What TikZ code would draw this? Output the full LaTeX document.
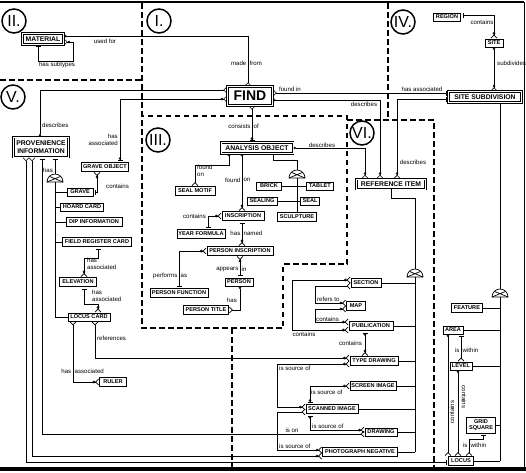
\documentclass[tikz,border=0pt]{standalone}
\usepackage{fontspec}
\setmainfont{Liberation Sans}
\usetikzlibrary{arrows.meta}
\tikzset{
  ent/.style={draw, line width=1pt, fill=white, font=\fontsize{5.6}{6}\selectfont\bfseries, inner xsep=1pt, inner ysep=0pt, align=center},
  ment/.style={ent, double, double distance=0.6pt, line width=0.8pt, font=\fontsize{6.8}{7.4}\selectfont\bfseries},
  lbl/.style={font=\fontsize{6.1}{6.6}\selectfont, inner sep=0pt, align=left},
  conn/.style={line width=0.65pt},
  zone/.style={line width=1.6pt, dash pattern=on 5.5pt off 3.5pt},
  roman/.style={circle, draw, line width=1.5pt, minimum size=24pt, inner sep=0pt, font=\fontsize{16}{16}\selectfont},
  Crow/.tip={Straight Barb[reversed,length=3pt,width=6pt]},
  OCrow/.tip={Circle[open,length=2.6pt,width=2.6pt] Straight Barb[reversed,length=3pt,width=6pt]},
  One/.tip={Bar[width=5pt,sep=1.5pt]},
  OOne/.tip={Circle[open,length=2.6pt,width=2.6pt] Bar[width=5pt,sep=1.5pt]},
  Ring/.tip={Circle[open,length=2.6pt,width=2.6pt]},
  xarc/.pic={
    \coordinate (-top) at (0,-8);
    \coordinate (-base) at (0,0);
    \draw[line width=0.7pt, fill=white] (-8,0) arc[start angle=180, end angle=360, radius=8] -- cycle;
    \draw[line width=0.7pt] (-8,0) -- (5.66,-5.66) (8,0) -- (-5.66,-5.66);
  }
}
\begin{document}
\begin{tikzpicture}[x=1pt,y=-1pt]
\useasboundingbox (0,0) rectangle (526,472);
% frame
\draw[line width=1.5pt] (0,2) -- (524,2);
\draw[line width=1pt] (524,2) -- (524,468);
\draw[line width=4pt] (0,468.5) -- (526,468.5);
% zones
\draw[zone] (0,80) -- (142,80);
\draw[zone] (142,3) -- (142,328) -- (283,328) -- (283,264) -- (347,264) -- (347,116) -- (142,116);
\draw[zone] (347,120) -- (434,120) -- (434,468);
\draw[zone] (388,3) -- (388,120);
\draw[zone] (232,328) -- (232,468);
% roman numerals
\node[roman] (rII) at (14,21) {II.};
\node[roman] (rI) at (159,21) {I.};
\node[roman] (rIV) at (403,22) {IV.};
\node[roman] (rV) at (13,97) {V.};
\node[roman] (rIII) at (158,140) {III.};
\node[roman] (rVI) at (362,133) {VI.};
% entities
\node[ment, minimum width=41pt, minimum height=11pt] (mat) at (43,39) {MATERIAL};
\node[ment, minimum width=45pt, minimum height=19pt, font=\fontsize{14}{14}\selectfont\bfseries] (find) at (250,96) {FIND};
\node[ent, minimum width=27pt, minimum height=8pt] (region) at (447,17) {REGION};
\node[ent, minimum width=18pt, minimum height=8pt] (site) at (494,43) {SITE};
\node[ment, minimum width=73pt, minimum height=11pt] (ss) at (485,97) {SITE SUBDIVISION};
\node[ment, minimum width=55pt, minimum height=20pt] (prov) at (41,147) {PROVENIENCE\\INFORMATION};
\node[ent, minimum width=47pt, minimum height=9pt] (gobj) at (105,167) {GRAVE OBJECT};
\node[ent, minimum width=26pt, minimum height=8pt] (grave) at (80,192) {GRAVE};
\node[ent, minimum width=43pt, minimum height=8pt] (hoard) at (82,207) {HOARD CARD};
\node[ent, minimum width=56pt, minimum height=9pt] (dip) at (94,222) {DIP INFORMATION};
\node[ent, minimum width=69pt, minimum height=9pt] (frc) at (97,242) {FIELD REGISTER CARD};
\node[ent, minimum width=37pt, minimum height=9pt] (elev) at (78,282) {ELEVATION};
\node[ent, minimum width=42pt, minimum height=8pt] (lcard) at (89,317) {LOCUS CARD};
\node[ent, minimum width=27pt, minimum height=9pt] (ruler) at (113,382) {RULER};
\node[ment, minimum width=72pt, minimum height=11pt] (ao) at (257,148) {ANALYSIS OBJECT};
\node[ent, minimum width=40pt, minimum height=9pt] (smotif) at (195,191) {SEAL MOTIF};
\node[ent, minimum width=25pt, minimum height=8pt] (brick) at (269,186) {BRICK};
\node[ent, minimum width=27pt, minimum height=8pt] (tablet) at (320,186) {TABLET};
\node[ent, minimum width=30pt, minimum height=8pt] (sealing) at (262,201) {SEALING};
\node[ent, minimum width=19pt, minimum height=8pt] (seal) at (310,201) {SEAL};
\node[ent, minimum width=39pt, minimum height=9pt] (sculp) at (297,217) {SCULPTURE};
\node[ent, minimum width=42pt, minimum height=9pt] (insc) at (243,216) {INSCRIPTION};
\node[ent, minimum width=48pt, minimum height=9pt] (yf) at (201,234) {YEAR FORMULA};
\node[ent, minimum width=66pt, minimum height=9pt] (pinsc) at (240,251) {PERSON INSCRIPTION};
\node[ent, minimum width=28pt, minimum height=8pt] (person) at (239,282) {PERSON};
\node[ent, minimum width=58pt, minimum height=9pt] (pfunc) at (179,293) {PERSON FUNCTION};
\node[ent, minimum width=45pt, minimum height=9pt] (ptitle) at (206,310) {PERSON TITLE};
\node[ment, minimum width=69pt, minimum height=10pt] (ref) at (391,184) {REFERENCE ITEM};
\node[ent, minimum width=30pt, minimum height=9pt] (section) at (366,283) {SECTION};
\node[ent, minimum width=19pt, minimum height=9pt] (map) at (356,306) {MAP};
\node[ent, minimum width=44pt, minimum height=9pt] (pub) at (371,326) {PUBLICATION};
\node[ent, minimum width=48pt, minimum height=9pt] (td) at (374,361) {TYPE DRAWING};
\node[ent, minimum width=46pt, minimum height=9pt] (screen) at (373,386) {SCREEN IMAGE};
\node[ent, minimum width=52pt, minimum height=9pt] (scan) at (332,409) {SCANNED IMAGE};
\node[ent, minimum width=32pt, minimum height=8pt] (drawing) at (381,432) {DRAWING};
\node[ent, minimum width=75pt, minimum height=9pt] (pn) at (360,452) {PHOTOGRAPH NEGATIVE};
\node[ent, minimum width=31pt, minimum height=9pt] (feature) at (467,308) {FEATURE};
\node[ent, minimum width=20pt, minimum height=8pt] (area) at (453,330) {AREA};
\node[ent, minimum width=22pt, minimum height=8pt] (level) at (461,366) {LEVEL};
\node[ent, minimum width=29pt, minimum height=16pt] (grid) at (481,425) {GRID\\SQUARE};
\node[ent, minimum width=25pt, minimum height=9pt] (locus) at (461,461) {LOCUS};
% subtype arcs
\pic (arcA) at (297,178) {xarc};
\pic (arcB) at (415,277) {xarc};
\pic (arcC) at (55,182) {xarc};
\pic (arcD) at (500,297) {xarc};
% region II / I
\draw[conn, {Ring}-{Crow}] (mat.east |- 0,36) -| (248,0 |- find.north);
\node[lbl] (l1) at (105,41) {used for};
\node[lbl, anchor=east] (l2a) at (246.5,63) {made};
\node[lbl, anchor=west] (l2b) at (249.5,63) {from};
\draw[conn, {OCrow}-{One}] (mat.east |- 0,42) -- (73,42) -- (73,61) -- (38,61) -- (38,0 |- mat.south);
\node[lbl] (l3) at (57,65) {has subtypes};
\draw[conn, {Crow}-{Ring}] (find.west |- 0,90) -| (40,0 |- prov.north);
\node[lbl, anchor=west] (l4) at (42,125) {describes};
\draw[conn, {OCrow}-{OOne}] (find.west |- 0,99) -| (120,0 |- gobj.north);
\node[lbl, anchor=east, align=right] (l5) at (118,140) {has\\associated};
\draw[conn, {Crow}-{One}] (find.east |- 0,93) -- (ss.west |- 0,93);
\node[lbl] (l6) at (290,89) {found in};
\node[lbl] (l7) at (422,89) {has associated};
\draw[conn, {Ring}-{OCrow}] (find.east |- 0,100) -| (380,0 |- ref.north);
\node[lbl] (l8) at (364,104) {describes};
\draw[conn, {One}-{OCrow}] (ss.west |- 0,99) -| (397,0 |- ref.north);
\node[lbl] (l9) at (413,162) {describes};
\draw[conn, {Ring}-{OCrow}] (ao.east |- 0,148) -| (365,0 |- ref.north);
\node[lbl] (l10) at (322,145) {describes};
\draw[conn, {Crow}-{OOne}] (252,0 |- find.south) -- (252,0 |- ao.north);
\node[lbl, anchor=east] (l11a) at (250.5,126) {consists};
\node[lbl, anchor=west] (l11b) at (253.5,126) {of};
% region III
\draw[conn, {Ring}-{Crow}] (229,0 |- ao.south) |- (195,165) -- (195,0 |- smotif.north);
\node[lbl, anchor=west] (l12) at (197,171) {found\\on};
\draw[conn, {Ring}-{OCrow}] (242,0 |- ao.south) -- (242,0 |- insc.north);
\node[lbl, anchor=east] (l13a) at (240.5,180) {found};
\node[lbl, anchor=west] (l13b) at (243.5,180) {on};
\draw[conn] (273,0 |- ao.south) |- (297,160) -- (arcA-top);
\draw[conn] (arcA-base) -- (sculp.north);
\draw[conn] (brick.east) -- (tablet.west);
\draw[conn] (sealing.east) -- (seal.west);
\draw[conn, {OCrow}-{One}] (insc.west) -| (208,0 |- yf.north);
\node[lbl, anchor=east] (l14) at (206,216) {contains};
\draw[conn, {One}-{OCrow}] (242,0 |- insc.south) -- (242,0 |- pinsc.north);
\node[lbl, anchor=east] (l15a) at (240.5,233) {has};
\node[lbl, anchor=west] (l15b) at (243.5,233) {named};
\draw[conn, {OCrow}-{One}] (240,0 |- pinsc.south) -- (240,0 |- person.north);
\node[lbl, anchor=east] (l16a) at (238.5,269) {appears};
\node[lbl, anchor=west] (l16b) at (241.5,269) {in};
\draw[conn, {OCrow}-{One}] (pinsc.west) -| (179,0 |- pfunc.north);
\node[lbl, anchor=east] (l17a) at (177.5,276) {performs};
\node[lbl, anchor=west] (l17b) at (180.5,276) {as};
\draw[conn, {Ring}-{Crow}] (240,0 |- person.south) |- (ptitle.east);
\node[lbl, anchor=east] (l18) at (237,300) {has};
% region V
\draw[conn, {One}-] (55,0 |- prov.south) -- (arcC-top);
\node[lbl] (l19) at (48,170) {has};
\draw[conn] (arcC-base) -- (arcC-base |- lcard.west) -- (lcard.west);
\draw[conn] (arcC-base |- grave.west) -- (grave.west);
\draw[conn] (arcC-base |- hoard.west) -- (hoard.west);
\draw[conn] (arcC-base |- dip.west) -- (dip.west);
\draw[conn] (arcC-base |- frc.west) -- (frc.west);
\draw[conn, {OCrow}-{One}] (97,0 |- gobj.south) |- (grave.east);
\node[lbl, anchor=west] (l20) at (106,186) {contains};
\draw[conn, {One}-{OCrow}] (98,0 |- frc.south) |- (84,258) -- (84,0 |- elev.north);
\node[lbl, anchor=west] (l21) at (87,264) {has\\associated};
\draw[conn, {One}-{OCrow}] (84,0 |- elev.south) |- (98,304) -- (98,0 |- lcard.north);
\node[lbl, anchor=west] (l22) at (92,296) {has\\associated};
\draw[conn, {Crow}-{OCrow}] (95,0 |- lcard.south) |- (td.west |- 0,358);
\node[lbl, anchor=west] (l23) at (97,338) {references};
\draw[conn, {Crow}-{OCrow}] (73,0 |- lcard.south) |- (ruler.west);
\node[lbl, anchor=east] (l24a) at (71.5,371) {has};
\node[lbl, anchor=west] (l24b) at (74.5,371) {associated};
\draw[conn, {One}-{Crow}] (42,0 |- prov.south) |- (drawing.west |- 0,434);
\node[lbl] (l25) at (292,430) {is on};
\draw[conn, {Crow}-{OCrow}] (32,0 |- prov.south) |- (pn.west |- 0,456);
\draw[conn, {Crow}-{One}] (26,0 |- prov.south) |- (locus.west |- 0,462);
% region VI
\draw[conn] (391,0 |- ref.south) |- (415,198) -- (arcB-top);
\draw[conn] (arcB-base) -- (arcB-base |- pn.east);
\draw[conn] (section.east) -- (arcB-base |- section.east);
\draw[conn] (pub.east) -- (arcB-base |- pub.east);
\draw[conn] (td.east) -- (arcB-base |- td.east);
\draw[conn] (screen.east) -- (arcB-base |- screen.east);
\draw[conn] (scan.east) -- (arcB-base |- scan.east);
\draw[conn] (drawing.east) -- (arcB-base |- drawing.east);
\draw[conn] (pn.east) -- (arcB-base |- pn.east);
\draw[conn, {OCrow}-{OCrow}] (section.west |- 0,280) -- (292,280) |- (pub.west |- 0,330);
\node[lbl] (l26) at (304,334) {contains};
\draw[conn, {Crow}-{OCrow}] (section.west |- 0,286) -| (315,303) -- (map.west |- 0,303);
\node[lbl, anchor=west] (l27) at (317,299) {refers to};
\draw[conn, {OCrow}-{OCrow}] (map.west |- 0,309) -| (315,322) -- (pub.west |- 0,322);
\node[lbl, anchor=west] (l28) at (316,319) {contains};
\draw[conn, {OOne}-{OCrow}] (365,0 |- pub.south) -- (365,0 |- td.north);
\node[lbl, anchor=east] (l29) at (362,343) {contains};
\draw[conn, {OCrow}-{OCrow}] (td.west |- 0,364) -| (277,407) -- (scan.west |- 0,407);
\node[lbl, anchor=west] (l30) at (279,368) {is source of};
\draw[conn, {OCrow}-{Crow}] (pn.west |- 0,450) -| (277,412) -- (scan.west |- 0,412);
\node[lbl, anchor=west] (l31) at (279,446) {is source of};
\draw[conn, {OOne}-{OCrow}] (310,0 |- scan.north) |- (screen.west);
\node[lbl, anchor=west] (l32) at (311,392) {is source of};
\draw[conn, {OOne}-{OCrow}] (310,0 |- scan.south) |- (drawing.west |- 0,430);
\node[lbl, anchor=west] (l33) at (312,426) {is source of};
% region IV
\draw[conn, {One}-{OCrow}] (region.east |- 0,15) -| (494,0 |- site.north);
\node[lbl] (l34) at (482,22) {contains};
\draw[conn, {Ring}-{OCrow}] (494,0 |- site.south) -- (494,0 |- ss.north);
\node[lbl, anchor=west] (l35) at (497,63) {subdivides};
\draw[conn] (500,0 |- ss.south) -- (arcD-top);
\draw[conn] (arcD-base) -- (arcD-base |- locus.east);
\draw[conn] (feature.east) -- (arcD-base |- feature.east);
\draw[conn] (area.east) -- (arcD-base |- area.east);
\draw[conn] (level.east) -- (arcD-base |- level.east);
\draw[conn] (grid.east) -- (arcD-base |- grid.east);
\draw[conn] (locus.east) -- (arcD-base |- locus.east);
\draw[conn, {One}-{Crow}] (461,0 |- area.south) -- (461,0 |- level.north);
\node[lbl, anchor=east] (l36a) at (459.5,350) {is};
\node[lbl, anchor=west] (l36b) at (462.5,350) {within};
\draw[conn, {Ring}-{Crow}] (448,0 |- area.south) -- (448,0 |- locus.north);
\node[lbl, rotate=90] (l37) at (452,412) {contains};
\draw[conn, {Ring}-{Crow}] (458,0 |- level.south) -- (458,0 |- locus.north);
\node[lbl, rotate=-90] (l38) at (464,397) {contains};
\draw[conn, {One}-{Crow}] (483,0 |- grid.south) |- (469,439) -- (469,0 |- locus.north);
\node[lbl, anchor=east] (l39a) at (467.5,445) {is};
\node[lbl, anchor=west] (l39b) at (470.5,445) {within};
\end{tikzpicture}
\end{document}
